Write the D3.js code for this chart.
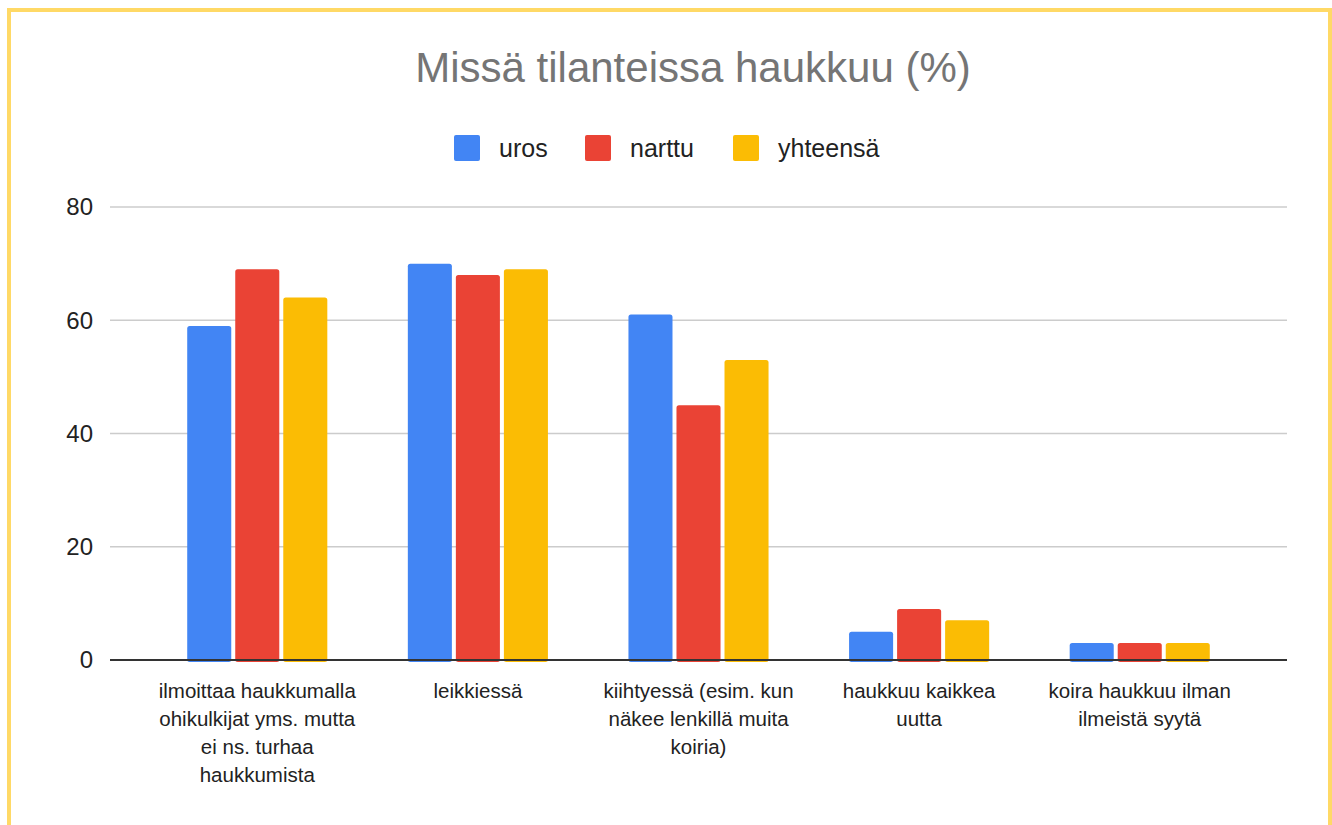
<!DOCTYPE html>
<html>
<head>
<meta charset="utf-8">
<script src="https://cdn.jsdelivr.net/npm/d3@7"></script>
<style>
    body { margin: 0; background: #fff; font-family: "Liberation Sans", Arial, sans-serif; }
</style>
</head>
<body>
<div id="chart"></div>
<script>
// data
const categories = ["c1", "c2", "c3", "c4", "c5"];
const categoryLabels = [
    ["ilmoittaa haukkumalla", "ohikulkijat yms. mutta", "ei ns. turhaa", "haukkumista"],
    ["leikkiessä"],
    ["kiihtyessä (esim. kun", "näkee lenkillä muita", "koiria)"],
    ["haukkuu kaikkea", "uutta"],
    ["koira haukkuu ilman", "ilmeistä syytä"]
];
const seriesNames = ["uros", "narttu", "yhteensä"];
const uros = [59, 70, 61, 5, 3];
const narttu = [69, 68, 45, 9, 3];
const yhteensa = [64, 69, 53, 7, 3];
const yTicks = [0, 20, 40, 60, 80];
const colors = ["#4285F4", "#EA4335", "#FBBC04"];

const W = 1332, H = 825;
const margin = {top: 207, right: 45, bottom: 165, left: 110};
const width = W - margin.left - margin.right;
const height = H - margin.top - margin.bottom;

let svg = d3.select("#chart").append("svg")
    .attr("width", W)
    .attr("height", H);

// frame
svg.append("rect")
    .attr("x", 9).attr("y", 10)
    .attr("width", 1321).attr("height", 830)
    .attr("fill", "none")
    .attr("stroke", "#FFD966")
    .attr("stroke-width", 4);

// title
svg.append("text")
    .attr("x", 693).attr("y", 82)
    .attr("text-anchor", "middle")
    .attr("fill", "#757575")
    .style("font-size", "42px")
    .text("Missä tilanteissa haukkuu (%)");

// legend
let legendX = [454, 585, 733];
let legend = svg.selectAll(".legend")
    .data(seriesNames)
    .enter().append("g")
    .attr("class", "legend")
    .attr("transform", (d, i) => `translate(${legendX[i]}, 135)`);
legend.append("rect")
    .attr("width", 26).attr("height", 26)
    .attr("rx", 2)
    .attr("fill", (d, i) => colors[i]);
legend.append("text")
    .attr("x", 45).attr("y", 22)
    .attr("fill", "#222")
    .style("font-size", "25px")
    .text(d => d);

let g = svg.append("g")
    .attr("transform", `translate(${margin.left}, ${margin.top})`);

let y = d3.scaleLinear()
    .domain([0, 80])
    .range([height, 0]);

let x0 = d3.scaleBand()
    .domain(categories)
    .range([0, width])
    .paddingInner(0.365)
    .paddingOuter(0.35);

let x1 = d3.scaleBand()
    .domain(seriesNames)
    .range([0, x0.bandwidth()])
    .paddingInner(0.083);

// grid
g.selectAll(".grid")
    .data(yTicks.filter(d => d > 0))
    .enter().append("line")
    .attr("class", "grid")
    .attr("x1", 0).attr("x2", width)
    .attr("y1", d => y(d)).attr("y2", d => y(d))
    .attr("stroke", "#cccccc")
    .attr("stroke-width", 1.5);

// y labels
g.selectAll(".ytick")
    .data(yTicks)
    .enter().append("text")
    .attr("class", "ytick")
    .attr("x", -17)
    .attr("y", d => y(d))
    .attr("dy", "0.35em")
    .attr("text-anchor", "end")
    .attr("fill", "#222")
    .style("font-size", "24px")
    .text(d => d);

// bars
let rows = categories.map((c, i) => ({cat: c, values: [uros[i], narttu[i], yhteensa[i]]}));

let groups = g.selectAll(".group")
    .data(rows)
    .enter().append("g")
    .attr("class", "group")
    .attr("transform", d => `translate(${x0(d.cat)}, 0)`);

groups.selectAll("rect")
    .data(d => d.values.map((v, i) => ({key: seriesNames[i], value: v, i: i})))
    .enter().append("rect")
    .attr("x", d => x1(d.key))
    .attr("y", d => y(d.value))
    .attr("width", x1.bandwidth())
    .attr("height", d => y(0) - y(d.value) + 2)
    .attr("rx", 2.5)
    .attr("fill", d => colors[d.i]);

// zero line
g.append("line")
    .attr("x1", 0).attr("x2", width)
    .attr("y1", y(0)).attr("y2", y(0))
    .attr("stroke", "#333")
    .attr("stroke-width", 2);

// category labels
let labels = g.selectAll(".xlabel")
    .data(rows)
    .enter().append("text")
    .attr("class", "xlabel")
    .attr("text-anchor", "middle")
    .attr("fill", "#222")
    .style("font-size", "20.5px")
    .attr("transform", d => `translate(${x0(d.cat) + x0.bandwidth() / 2}, ${height + 38})`);

labels.selectAll("tspan")
    .data((d, i) => categoryLabels[i])
    .enter().append("tspan")
    .attr("x", 0)
    .attr("y", (d, i) => i * 28)
    .text(d => d);
</script>
</body>
</html>
